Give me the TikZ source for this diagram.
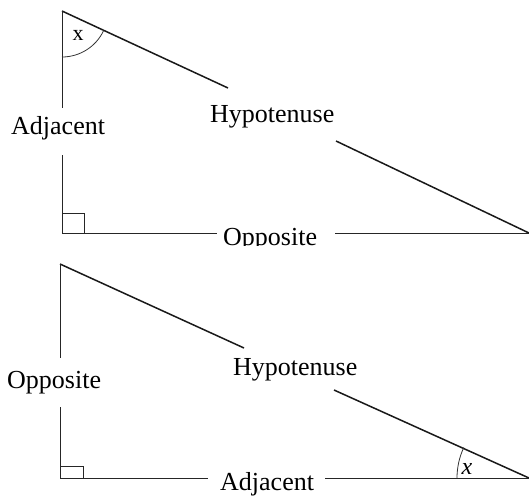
\documentclass[tikz,border=0pt]{standalone}
\usepackage{fontspec}
\setmainfont{Liberation Serif}
\begin{document}
\begin{tikzpicture}[x=1pt,y=-1pt,
  lbl/.style={inner sep=0pt,anchor=base west,font=\fontsize{26}{30}\selectfont},
  xlbl/.style={inner sep=0pt,font=\fontsize{22}{24}\selectfont},
  side/.style={line width=0.9pt,black!85},
  hyp/.style={line width=1.5pt,black!90},
  ang/.style={line width=0.8pt,black!80}]
\useasboundingbox (0,0) rectangle (529,498);
% ---------- top triangle ----------
\coordinate (A1) at (62,11);
\coordinate (C1) at (62,233);
\coordinate (B1) at (529,233);
\coordinate (h1a) at (228,88);
\coordinate (h1b) at (336,141);
\coordinate (v1a) at (62,108);
\coordinate (v1b) at (62,155);
\coordinate (b1a) at (217,233);
\coordinate (b1b) at (335,233);
\draw[hyp] (A1) -- (h1a);
\draw[hyp] (h1b) -- (B1);
\draw[side] (A1) -- (v1a);
\draw[side] (v1b) -- (C1) -- (b1a);
\draw[side] (b1b) -- (B1);
\draw[side] (62,213) -| (84,233);
\draw[ang] ([shift={(90:46)}]A1) arc[start angle=90,end angle=25.4,radius=46];
\node[xlbl] (x1) at (78,35) {x};
\node[lbl] (hypo1) at (210,122) {Hypotenuse};
\node[lbl] (adj1) at (11,134) {Adjacent};
\begin{scope}
\clip (200,220) rectangle (345,245);
\node[lbl] (opp1) at (223,245) {Opposite};
\end{scope}
% ---------- bottom triangle ----------
\coordinate (A2) at (60,264);
\coordinate (C2) at (60,478);
\coordinate (B2) at (529,478);
\coordinate (h2a) at (244,348);
\coordinate (h2b) at (334,390);
\coordinate (v2a) at (60,358);
\coordinate (v2b) at (60,407);
\coordinate (b2a) at (208,478);
\coordinate (b2b) at (325,478);
\draw[hyp] (A2) -- (h2a);
\draw[hyp] (h2b) -- (B2);
\draw[side] (A2) -- (v2a);
\draw[side] (v2b) -- (C2) -- (b2a);
\draw[side] (b2b) -- (B2);
\draw[side] (60,466) -| (83,478);
\draw[ang] ([shift={(180:72)}]B2) arc[start angle=180,end angle=205,radius=72];
\node[xlbl,font=\fontsize{24}{26}\selectfont\itshape] (x2) at (467,469) {x};
\node[lbl] (hypo2) at (233,375) {Hypotenuse};
\node[lbl] (opp2) at (7,388) {Opposite};
\node[lbl] (adj2) at (220,490) {Adjacent};
\end{tikzpicture}
\end{document}
